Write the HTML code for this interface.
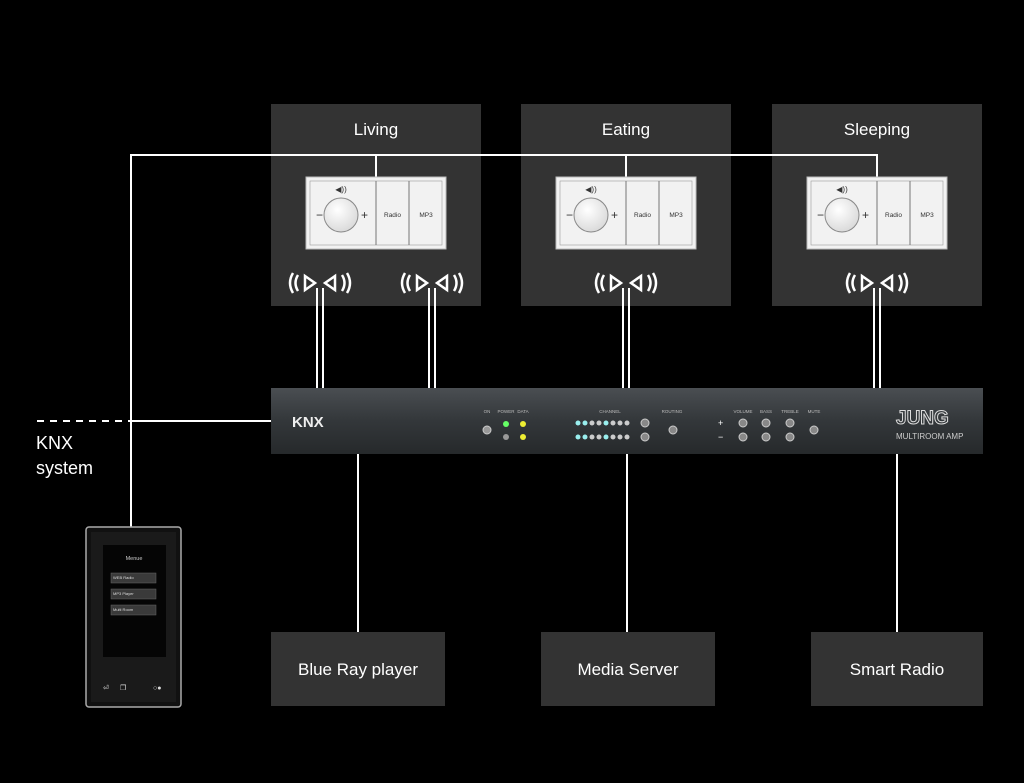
<!DOCTYPE html>
<html><head><meta charset="utf-8"><style>
html,body{margin:0;padding:0;background:#000;}
svg{display:block;font-family:"Liberation Sans",sans-serif;}
</style></head><body>
<svg width="1024" height="783" viewBox="0 0 1024 783" xmlns="http://www.w3.org/2000/svg">
<defs>
<linearGradient id="amp" x1="0" y1="0" x2="0" y2="1">
<stop offset="0" stop-color="#4a4e52"/><stop offset="0.5" stop-color="#33373a"/><stop offset="1" stop-color="#26292b"/>
</linearGradient>
<radialGradient id="knob" cx="0.4" cy="0.35" r="0.7"><stop offset="0" stop-color="#fff"/><stop offset="1" stop-color="#d8d8d8"/></radialGradient>
<g id="panel">
<rect x="0" y="0" width="140" height="72" fill="#f2f2f2" stroke="#bbb"/>
<rect x="4" y="4" width="132" height="64" fill="none" stroke="#999" stroke-width="0.6"/>
<line x1="70" y1="4" x2="70" y2="68" stroke="#777"/>
<line x1="103" y1="4" x2="103" y2="68" stroke="#777"/>
<circle cx="35" cy="38" r="17" fill="url(#knob)" stroke="#888"/>
<text x="10" y="42" font-size="12" fill="#333">−</text>
<text x="55" y="42" font-size="12" fill="#333">+</text>
<text x="35" y="15" font-size="8" fill="#333" text-anchor="middle">◀))</text>
<text x="86.5" y="40" font-size="6.5" fill="#333" text-anchor="middle">Radio</text>
<text x="120" y="40" font-size="6.5" fill="#333" text-anchor="middle">MP3</text>
</g>
<g id="spk" fill="none" stroke="#fff" stroke-width="2.5">
<path d="M-22,275 Q-27,283 -22,291"/><path d="M-27,273 Q-33,283 -27,293"/>
<path d="M22,275 Q27,283 22,291"/><path d="M27,273 Q33,283 27,293"/>
<path d="M-15,276 L-5,283 L-15,290 Z"/><path d="M15,276 L5,283 L15,290 Z"/>
</g>
</defs>
<rect width="1024" height="783" fill="#000"/>
<!-- room boxes -->
<rect x="271" y="104" width="210" height="202" fill="#333"/>
<rect x="521" y="104" width="210" height="202" fill="#333"/>
<rect x="772" y="104" width="210" height="202" fill="#333"/>
<text x="376" y="135" font-size="17" fill="#fff" text-anchor="middle">Living</text>
<text x="626" y="135" font-size="17" fill="#fff" text-anchor="middle">Eating</text>
<text x="877" y="135" font-size="17" fill="#fff" text-anchor="middle">Sleeping</text>
<!-- KNX lines -->
<g stroke="#fff" stroke-width="2" fill="none">
<polyline points="131,528 131,155 877,155 877,177"/>
<line x1="376" y1="155" x2="376" y2="177"/>
<line x1="626" y1="155" x2="626" y2="177"/>
<line x1="37" y1="421" x2="131" y2="421" stroke-dasharray="7,6"/>
<line x1="131" y1="421" x2="271" y2="421"/>
<line x1="317" y1="288" x2="317" y2="388"/><line x1="323" y1="288" x2="323" y2="388"/>
<line x1="429" y1="288" x2="429" y2="388"/><line x1="435" y1="288" x2="435" y2="388"/>
<line x1="623" y1="288" x2="623" y2="388"/><line x1="629" y1="288" x2="629" y2="388"/>
<line x1="874" y1="288" x2="874" y2="388"/><line x1="880" y1="288" x2="880" y2="388"/>
<line x1="358" y1="454" x2="358" y2="632"/>
<line x1="627" y1="454" x2="627" y2="632"/>
<line x1="897" y1="454" x2="897" y2="632"/>
</g>
<use href="#panel" x="306" y="177"/>
<use href="#panel" x="556" y="177"/>
<use href="#panel" x="807" y="177"/>
<use href="#spk" x="320" y="0"/>
<use href="#spk" x="432" y="0"/>
<use href="#spk" x="626" y="0"/>
<use href="#spk" x="877" y="0"/>
<!-- amp -->
<rect x="271" y="388" width="712" height="66" fill="url(#amp)"/>
<text x="292" y="427" font-size="15" font-weight="bold" fill="#eee">KNX</text>
<g font-size="4.5" fill="#bbb" text-anchor="middle">
<text x="487" y="413">ON</text><text x="506" y="413">POWER</text><text x="523" y="413">DATA</text>
<text x="610" y="413">CHANNEL</text><text x="672" y="413">ROUTING</text>
<text x="743" y="413">VOLUME</text><text x="766" y="413">BASS</text><text x="790" y="413">TREBLE</text><text x="814" y="413">MUTE</text>
</g>
<circle cx="487" cy="430" r="4" fill="#999" stroke="#ccc"/>
<circle cx="506" cy="424" r="3" fill="#6f6"/><circle cx="523" cy="424" r="3" fill="#ee3"/>
<circle cx="506" cy="437" r="3" fill="#999"/><circle cx="523" cy="437" r="3" fill="#ee3"/>
<g fill="#9ee">
<circle cx="578" cy="423" r="2.5"/><circle cx="585" cy="423" r="2.5"/><circle cx="592" cy="423" r="2.5" fill="#ccc"/><circle cx="599" cy="423" r="2.5" fill="#ccc"/><circle cx="606" cy="423" r="2.5"/><circle cx="613" cy="423" r="2.5" fill="#ccc"/><circle cx="620" cy="423" r="2.5" fill="#ccc"/><circle cx="627" cy="423" r="2.5" fill="#ccc"/>
<circle cx="578" cy="437" r="2.5"/><circle cx="585" cy="437" r="2.5"/><circle cx="592" cy="437" r="2.5" fill="#ccc"/><circle cx="599" cy="437" r="2.5" fill="#ccc"/><circle cx="606" cy="437" r="2.5"/><circle cx="613" cy="437" r="2.5" fill="#ccc"/><circle cx="620" cy="437" r="2.5" fill="#ccc"/><circle cx="627" cy="437" r="2.5" fill="#ccc"/>
</g>
<g fill="#888" stroke="#ccc">
<circle cx="645" cy="423" r="4"/><circle cx="645" cy="437" r="4"/><circle cx="673" cy="430" r="4"/>
<circle cx="743" cy="423" r="4"/><circle cx="766" cy="423" r="4"/><circle cx="790" cy="423" r="4"/>
<circle cx="743" cy="437" r="4"/><circle cx="766" cy="437" r="4"/><circle cx="790" cy="437" r="4"/><circle cx="814" cy="430" r="4"/>
</g>
<text x="718" y="426" font-size="9" fill="#fff">+</text><text x="718" y="440" font-size="9" fill="#fff">−</text>
<text x="896" y="424" font-size="19" font-weight="bold" fill="none" stroke="#ddd" stroke-width="1">JUNG</text>
<text x="896" y="439" font-size="8" fill="#ccc">MULTIROOM AMP</text>
<!-- KNX label -->
<text x="36" y="449" font-size="18" fill="#fff">KNX</text>
<text x="36" y="474" font-size="18" fill="#fff">system</text>
<!-- source boxes -->
<rect x="271" y="632" width="174" height="74" fill="#333"/>
<rect x="541" y="632" width="174" height="74" fill="#333"/>
<rect x="811" y="632" width="172" height="74" fill="#333"/>
<text x="358" y="675" font-size="17" fill="#fff" text-anchor="middle">Blue Ray player</text>
<text x="628" y="675" font-size="17" fill="#fff" text-anchor="middle">Media Server</text>
<text x="897" y="675" font-size="17" fill="#fff" text-anchor="middle">Smart Radio</text>
<!-- phone -->
<rect x="86" y="527" width="95" height="180" rx="3" fill="#111" stroke="#aaa" stroke-width="1.5"/>
<rect x="91" y="532" width="85" height="170" fill="#1a1a1a"/>
<rect x="103" y="545" width="63" height="112" fill="#050505"/>
<text x="134" y="560" font-size="5.5" fill="#ccc" text-anchor="middle">Menue</text>
<rect x="111" y="573" width="45" height="10" fill="#3a3a3a" stroke="#666" stroke-width="0.5"/>
<rect x="111" y="589" width="45" height="10" fill="#3a3a3a" stroke="#666" stroke-width="0.5"/>
<rect x="111" y="605" width="45" height="10" fill="#3a3a3a" stroke="#666" stroke-width="0.5"/>
<g font-size="4" fill="#ddd"><text x="113" y="579">WEB Radio</text><text x="113" y="595">MP3 Player</text><text x="113" y="611">Multi Room</text></g>
<g font-size="7" fill="#ddd"><text x="103" y="690">⏎</text><text x="120" y="690">❐</text><text x="153" y="690">○●</text></g>
</svg>
</body></html>
